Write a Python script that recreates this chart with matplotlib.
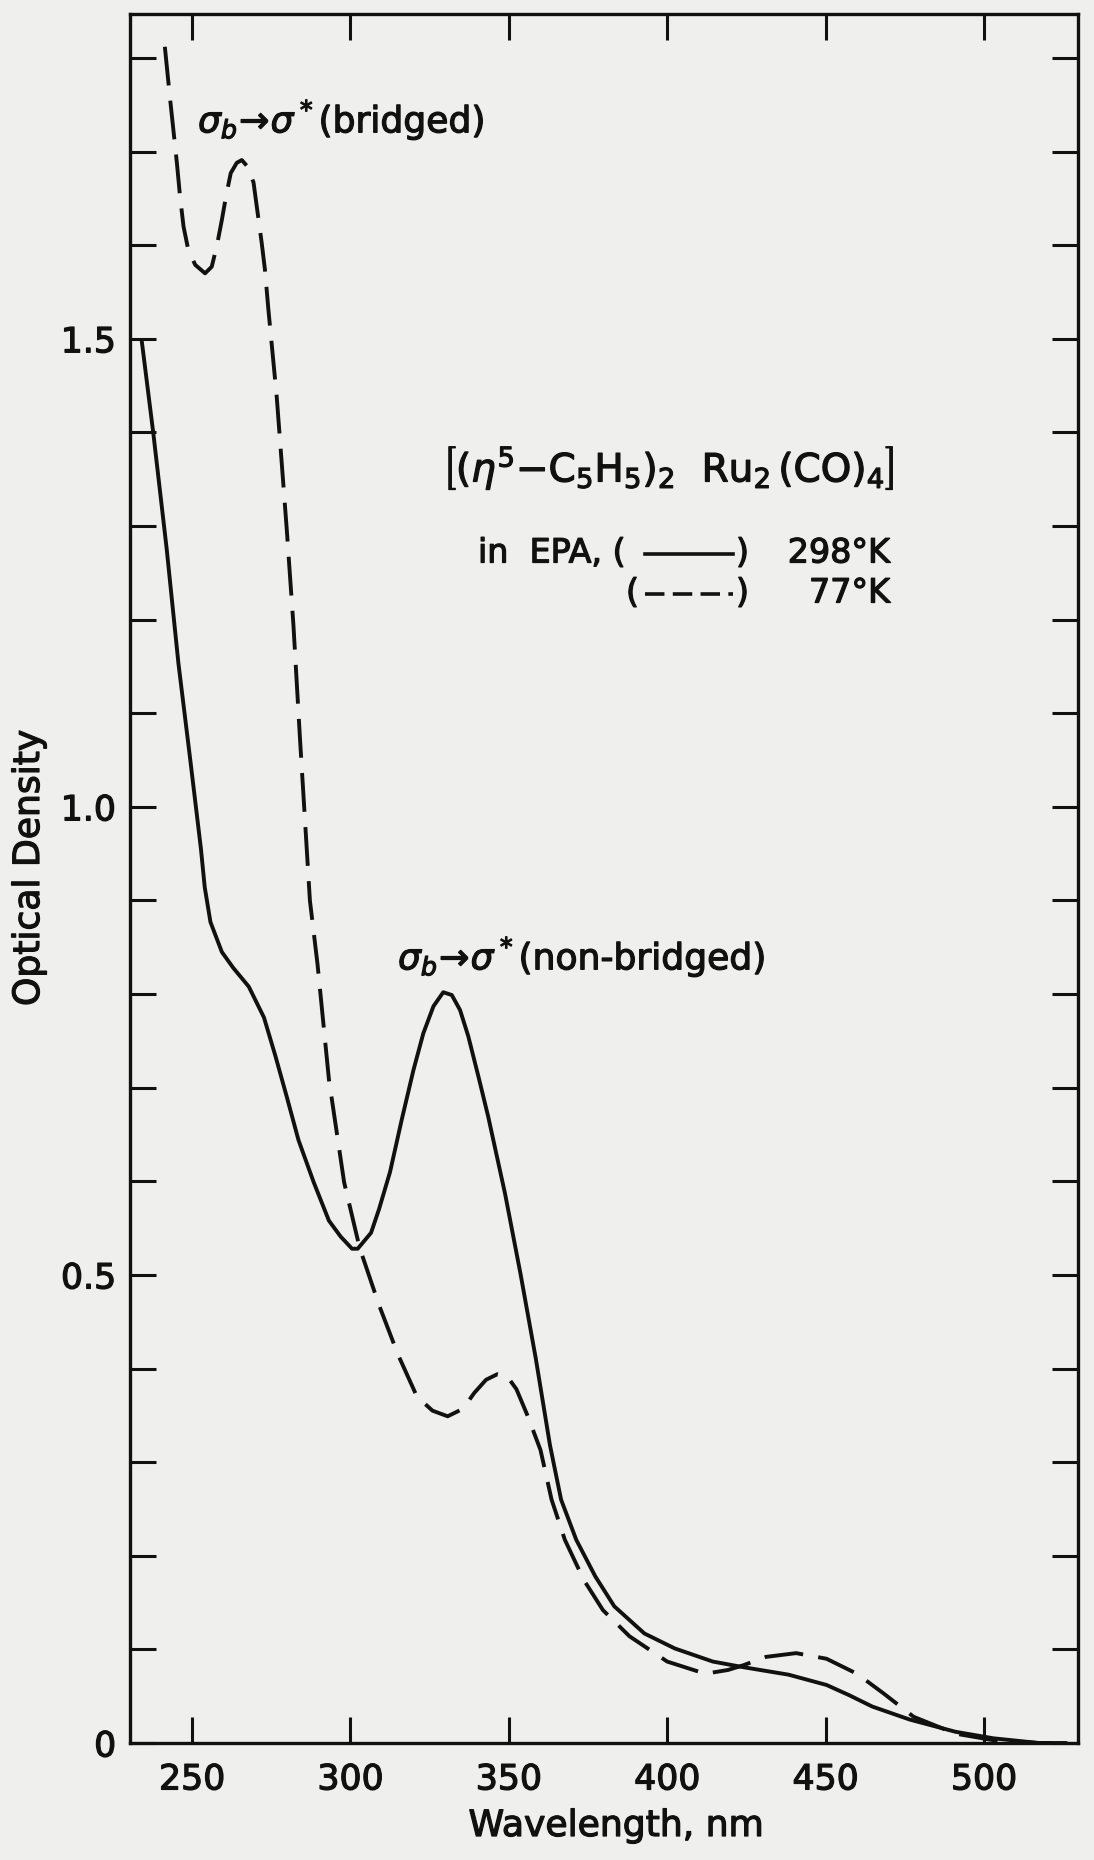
import matplotlib
matplotlib.use("Agg")
import matplotlib.pyplot as plt
import matplotlib.patheffects as pe
from matplotlib.lines import Line2D
from matplotlib.ticker import FixedLocator, FuncFormatter

# 298 K spectrum (solid)
warm_wl = [234.1, 237.8, 242.0, 245.7, 249.4, 252.8, 254.0, 255.8, 259.4, 263.0,
           267.9, 272.7, 276.3, 280.0, 283.6, 288.4, 293.2, 296.9, 300.5, 302.3,
           306.5, 309.0, 312.5, 316.2, 319.9, 323.0, 326.2, 329.3, 332.0, 334.6,
           337.2, 340.4, 343.5, 348.8, 353.7, 358.5, 363.0, 366.5, 371.3, 377.3,
           383.3, 392.8, 402.4, 414.4, 424.0, 438.3, 450.3, 457.5, 464.7, 476.6,
           491.0, 503.0, 517.3, 526.0]
warm_od = [1.498, 1.398, 1.275, 1.153, 1.051, 0.955, 0.914, 0.877, 0.845, 0.828,
           0.808, 0.775, 0.734, 0.689, 0.644, 0.599, 0.558, 0.541, 0.528, 0.528,
           0.545, 0.570, 0.610, 0.666, 0.719, 0.758, 0.787, 0.802, 0.799, 0.783,
           0.755, 0.712, 0.669, 0.587, 0.501, 0.411, 0.318, 0.260, 0.217, 0.178,
           0.146, 0.117, 0.101, 0.087, 0.081, 0.073, 0.062, 0.051, 0.039, 0.025,
           0.012, 0.005, 0.000, 0.000]

# 77 K spectrum (dashed)
cold_wl = [241.4, 243.0, 244.1, 245.2, 246.2, 247.3, 248.8, 251.0, 254.1, 256.2,
           257.8, 259.4, 260.7, 262.2, 264.1, 265.7, 267.5, 269.4, 270.4, 272.0,
           273.0, 274.1, 276.7, 279.9, 282.0, 284.1, 287.2, 289.6, 293.2, 298.0,
           302.9, 309.0, 315.0, 321.0, 325.9, 330.7, 335.5, 339.1, 342.8, 346.4,
           349.4, 352.4, 356.0, 360.0, 363.5, 367.7, 373.7, 379.7, 388.1, 400.0,
           412.0, 419.2, 424.0, 431.2, 440.7, 450.3, 459.9, 468.3, 477.8, 491.0,
           503.0, 517.3, 526.0]
cold_od = [1.812, 1.758, 1.723, 1.688, 1.652, 1.620, 1.595, 1.579, 1.570, 1.577,
           1.599, 1.627, 1.652, 1.677, 1.688, 1.691, 1.684, 1.667, 1.642, 1.602,
           1.574, 1.531, 1.439, 1.296, 1.194, 1.071, 0.900, 0.832, 0.709, 0.599,
           0.529, 0.468, 0.415, 0.370, 0.355, 0.349, 0.357, 0.374, 0.388, 0.394,
           0.392, 0.378, 0.349, 0.313, 0.260, 0.217, 0.174, 0.142, 0.114, 0.087,
           0.074, 0.078, 0.083, 0.092, 0.096, 0.090, 0.074, 0.053, 0.028, 0.010,
           0.003, 0.000, 0.000]

x_ticks = [250, 300, 350, 400, 450, 500]
y_ticks = [round(0.1 * i, 1) for i in range(19)]
y_labels = {0.0: "0", 0.5: "0.5", 1.0: "1.0", 1.5: "1.5"}

INK = "#111111"
PAPER = "#efefed"
W, H = 1094, 1860

plt.rcParams["font.family"] = ["DejaVu Sans"]
plt.rcParams["mathtext.fontset"] = "dejavusans"
plt.rcParams["lines.scale_dashes"] = False

# slightly heavier strokes, like the hand lettering
heavy = [pe.withStroke(linewidth=0.9, foreground=INK)]

fig = plt.figure(figsize=(W / 100, H / 100), dpi=100, facecolor=PAPER)
ax = fig.add_axes([130 / W, 1 - 1743 / H, (1078 - 130) / W, (1743 - 14) / H])
ax.set_facecolor(PAPER)

ax.plot(warm_wl, warm_od, color=INK, lw=2.8, solid_joinstyle="round",
        solid_capstyle="round")
ax.plot(cold_wl, cold_od, color=INK, lw=2.8, dashes=(28, 11),
        dash_capstyle="butt", dash_joinstyle="round")

ax.set_xlim(230.4, 529.7)
ax.set_ylim(0, 1.847)

ax.xaxis.set_major_locator(FixedLocator(x_ticks))
ax.yaxis.set_major_locator(FixedLocator(y_ticks))
ax.yaxis.set_major_formatter(FuncFormatter(lambda v, p: y_labels.get(round(v, 1), "")))
ax.tick_params(axis="both", which="major", direction="in", length=19, width=2.2,
               color=INK, labelcolor=INK, labelsize=25,
               top=True, right=True)
ax.tick_params(axis="x", pad=14)
ax.tick_params(axis="y", pad=10)
for lab in ax.get_xticklabels() + ax.get_yticklabels():
    lab.set_path_effects(heavy)

for side in ax.spines.values():
    side.set_linewidth(2.4)
    side.set_color(INK)


def fx(px):
    return px / W


def fy(py):
    return 1 - py / H


def put(px, py, s, size, **kw):
    t = fig.text(fx(px), fy(py), s, fontsize=size, color=INK, va="center", **kw)
    t.set_path_effects(heavy)
    return t


put(616, 1826, "Wavelength, nm", 26, ha="center")
put(29, 868, "Optical Density", 26, ha="center", rotation=90)

put(198, 120, r"$\sigma_b\!\rightarrow\!\sigma^*$(bridged)", 26, ha="left")
put(398, 957, r"$\sigma_b\!\rightarrow\!\sigma^*$(non-bridged)", 26, ha="left")

put(668, 468, r"$\left[(\eta^5\mathrm{-C_5H_5})_2\ \ \mathrm{Ru_2\,(CO)_4}\right]$",
    28, ha="center")

# key lines: "in EPA, (----) 298°K" / "(- - -) 77°K"
put(478, 553, "in  EPA, (", 24, ha="left")
put(736, 553, ")", 24, ha="left")
put(890, 553, "298°K", 24, ha="right")
put(626, 593, "(", 24, ha="left")
put(736, 593, ")", 24, ha="left")
put(890, 593, "77°K", 24, ha="right")

fig.add_artist(Line2D([fx(645), fx(733)], [fy(554), fy(554)], color=INK, lw=2.6))
fig.add_artist(Line2D([fx(645), fx(733)], [fy(594), fy(594)], color=INK, lw=2.6,
                      dashes=(14, 6)))

fig.savefig("out.png", dpi=100, facecolor=PAPER)
